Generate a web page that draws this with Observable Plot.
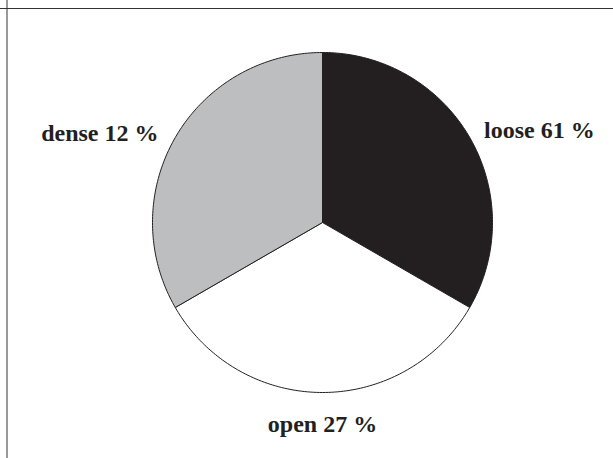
<!DOCTYPE html>
<html>
<head>
<meta charset="utf-8">
<script src="https://cdn.jsdelivr.net/npm/d3@7"></script>
<script src="https://cdn.jsdelivr.net/npm/@observablehq/plot@0.6"></script>
<style>
  html, body { margin: 0; padding: 0; background: #fff; }
  #chart svg { display: block; }
</style>
</head>
<body>
<div id="chart"></div>
<script>
// Data
const categories = ["loose", "open", "dense"];
const percentLabels = [61, 27, 12];
// Drawn slice sizes (the wedges in the picture are equal thirds)
const sliceShares = [1, 1, 1];
const sliceColors = ["#231f20", "#ffffff", "#bcbec0"];

// Layout (unit-circle coordinates for labels)
const labelAnchors = {
  loose: [1.276, 0.54],
  open: [0, -1.19],
  dense: [-1.31, 0.525]
};

const W = 613, H = 458, cx = 322, cy = 222, R = 170;

const pie = d3.pie().sort(null).value(d => d.share)(
  categories.map((c, i) => ({ cat: c, share: sliceShares[i], pct: percentLabels[i], color: sliceColors[i] }))
);

// polygon vertices for each wedge in unit coords (angle clockwise from 12 o'clock)
const wedgePts = [];
pie.forEach(p => {
  const n = 120;
  wedgePts.push({ cat: p.data.cat, x: 0, y: 0, color: p.data.color });
  for (let k = 0; k <= n; k++) {
    const a = p.startAngle + (p.endAngle - p.startAngle) * k / n;
    wedgePts.push({ cat: p.data.cat, x: Math.sin(a), y: Math.cos(a), color: p.data.color });
  }
  wedgePts.push({ cat: p.data.cat, x: 0, y: 0, color: p.data.color });
});

const labels = pie.map(p => ({
  text: `${p.data.cat} ${p.data.pct} %`,
  x: labelAnchors[p.data.cat][0],
  y: labelAnchors[p.data.cat][1]
}));

const chart = Plot.plot({
  width: W,
  height: H,
  margin: 0,
  x: { domain: [-cx / R, (W - cx) / R], range: [0, W], axis: null },
  y: { domain: [(cy - H) / R, cy / R], range: [H, 0], axis: null },
  style: { background: "#fff" },
  marks: [
    Plot.line(wedgePts, {
      x: "x", y: "y", z: "cat",
      fill: "color",
      stroke: "#231f20",
      strokeWidth: 1,
      curve: "linear"
    }),
    Plot.text(labels, {
      x: "x", y: "y", text: "text",
      fontFamily: "Liberation Serif, Times New Roman, serif",
      fontWeight: "bold",
      fontSize: 24,
      fill: "#231f20",
      textAnchor: "middle"
    }),
    Plot.ruleX([-(cx - 6.5) / R], { stroke: "#555", strokeWidth: 1.2 }),
    Plot.ruleY([(cy - 8) / R], { stroke: "#333", strokeWidth: 1.2 })
  ]
});

document.getElementById("chart").appendChild(chart);
</script>
</body>
</html>
